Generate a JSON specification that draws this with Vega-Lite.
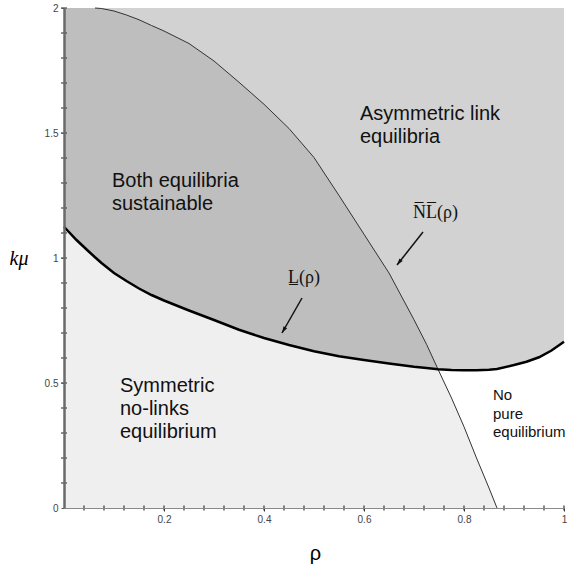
{
  "$schema": "https://vega.github.io/schema/vega-lite/v6.json",
  "width": 500,
  "height": 500,
  "autosize": "none",
  "padding": {"left": 64, "top": 8, "right": 5, "bottom": 63},
  "background": "white",
  "config": {
    "view": {"fill": "#d2d2d2", "stroke": null},
    "axis": {"labelOverlap": false, "labelFlush": false, "grid": false, "zindex": 1}
  },
  "datasets": {
    "curves": [
      {"rho": 0, "L": 1.125, "NL": 2},
      {"rho": 0.025, "L": 1.072, "NL": 2},
      {"rho": 0.05, "L": 1.025, "NL": 2},
      {"rho": 0.062, "L": 1.003, "NL": 2},
      {"rho": 0.075, "L": 0.98, "NL": 1.998},
      {"rho": 0.1, "L": 0.94, "NL": 1.988},
      {"rho": 0.125, "L": 0.908, "NL": 1.972},
      {"rho": 0.15, "L": 0.878, "NL": 1.953},
      {"rho": 0.175, "L": 0.852, "NL": 1.93},
      {"rho": 0.2, "L": 0.83, "NL": 1.908},
      {"rho": 0.25, "L": 0.79, "NL": 1.858},
      {"rho": 0.3, "L": 0.752, "NL": 1.788},
      {"rho": 0.35, "L": 0.713, "NL": 1.703},
      {"rho": 0.4, "L": 0.68, "NL": 1.615},
      {"rho": 0.45, "L": 0.652, "NL": 1.518},
      {"rho": 0.5, "L": 0.627, "NL": 1.402},
      {"rho": 0.55, "L": 0.607, "NL": 1.25},
      {"rho": 0.6, "L": 0.592, "NL": 1.095},
      {"rho": 0.65, "L": 0.578, "NL": 0.94},
      {"rho": 0.7, "L": 0.565, "NL": 0.753},
      {"rho": 0.725, "L": 0.56, "NL": 0.655},
      {"rho": 0.748, "L": 0.555, "NL": 0.555},
      {"rho": 0.775, "L": 0.552, "NL": 0.44},
      {"rho": 0.8, "L": 0.551, "NL": 0.325},
      {"rho": 0.825, "L": 0.551, "NL": 0.2},
      {"rho": 0.85, "L": 0.553, "NL": 0.08},
      {"rho": 0.866, "L": 0.556, "NL": 0},
      {"rho": 0.9, "L": 0.572, "NL": null},
      {"rho": 0.925, "L": 0.585, "NL": null},
      {"rho": 0.95, "L": 0.603, "NL": null},
      {"rho": 0.975, "L": 0.63, "NL": null},
      {"rho": 1, "L": 0.665, "NL": null}
    ],
    "xticks": [
      {"rho": 0.04}, {"rho": 0.08}, {"rho": 0.12}, {"rho": 0.16}, {"rho": 0.2},
      {"rho": 0.24}, {"rho": 0.28}, {"rho": 0.32}, {"rho": 0.36}, {"rho": 0.4},
      {"rho": 0.44}, {"rho": 0.48}, {"rho": 0.52}, {"rho": 0.56}, {"rho": 0.6},
      {"rho": 0.64}, {"rho": 0.68}, {"rho": 0.72}, {"rho": 0.76}, {"rho": 0.8},
      {"rho": 0.84}, {"rho": 0.88}, {"rho": 0.92}, {"rho": 0.96}, {"rho": 1}
    ],
    "yticks": [
      {"kmu": 0.1}, {"kmu": 0.2}, {"kmu": 0.3}, {"kmu": 0.4}, {"kmu": 0.5},
      {"kmu": 0.6}, {"kmu": 0.7}, {"kmu": 0.8}, {"kmu": 0.9}, {"kmu": 1},
      {"kmu": 1.1}, {"kmu": 1.2}, {"kmu": 1.3}, {"kmu": 1.4}, {"kmu": 1.5},
      {"kmu": 1.6}, {"kmu": 1.7}, {"kmu": 1.8}, {"kmu": 1.9}, {"kmu": 2}
    ],
    "arrows": [
      {"name": "NL", "rho": 0.718, "kmu": 1.104, "rho2": 0.666, "kmu2": 0.972},
      {"name": "L", "rho": 0.476, "kmu": 0.84, "rho2": 0.436, "kmu2": 0.7}
    ],
    "regionLabels": [
      {"rho": 0.096, "kmu": 1.284, "text": ["Both equilibria", "sustainable"]},
      {"rho": 0.112, "kmu": 0.464, "text": ["Symmetric", "no-links", "equilibrium"]},
      {"rho": 0.592, "kmu": 1.552, "text": ["Asymmetric link", "equilibria"]}
    ],
    "smallLabels": [
      {"rho": 0.858, "kmu": 0.432, "text": ["No", "pure", "equilibrium"]}
    ],
    "curveLabels": [
      {"rho": 0.698, "kmu": 1.16, "text": "N̅L̅(ρ)"},
      {"rho": 0.448, "kmu": 0.9, "text": "L̲(ρ)"}
    ]
  },
  "layer": [
    {
      "data": {"name": "curves"},
      "transform": [{"filter": "datum.rho <= 0.748"}],
      "mark": {"type": "area", "color": "#bebebe", "opacity": 1},
      "encoding": {
        "x": {
          "field": "rho", "type": "quantitative",
          "scale": {"domain": [0, 1], "nice": false, "zero": false},
          "axis": {
            "title": "ρ",
            "values": [0.2, 0.4, 0.6, 0.8, 1],
            "format": "~g",
            "labelOverlap": false,
            "labelFlush": false,
            "grid": false,
            "zindex": 1,
            "domainColor": "#8a8a8a",
            "domainWidth": 1,
            "tickColor": "#333333",
            "tickSize": 3,
            "labelFont": "Liberation Sans",
            "labelFontSize": 10,
            "labelColor": "#444444",
            "labelPadding": 3,
            "titleFont": "Liberation Sans",
            "titleFontSize": 20,
            "titleFontWeight": "normal",
            "titleColor": "#000000",
            "titleX": 251,
            "titleY": 45,
            "titleAlign": "center",
            "titleBaseline": "middle"
          }
        },
        "y": {
          "field": "NL", "type": "quantitative",
          "scale": {"domain": [0, 2], "nice": false, "zero": false},
          "axis": {
            "title": "kμ",
            "values": [0, 0.5, 1, 1.5, 2],
            "format": "~g",
            "labelOverlap": false,
            "labelFlush": false,
            "grid": false,
            "zindex": 1,
            "domainColor": "#6a6a6a",
            "domainWidth": 2.5,
            "tickColor": "#555555",
            "tickSize": 3,
            "labelFont": "Liberation Sans",
            "labelFontSize": 10,
            "labelColor": "#444444",
            "labelPadding": 3,
            "titleFont": "Liberation Serif",
            "titleFontStyle": "italic",
            "titleFontSize": 20,
            "titleFontWeight": "normal",
            "titleColor": "#000000",
            "titleAngle": 0,
            "titleX": -55,
            "titleY": 250,
            "titleAlign": "left",
            "titleBaseline": "middle"
          }
        },
        "y2": {"field": "L"}
      }
    },
    {
      "data": {"name": "curves"},
      "transform": [{"filter": "datum.rho >= 0.748"}],
      "mark": {"type": "area", "color": "#ffffff", "opacity": 1},
      "encoding": {
        "x": {"field": "rho", "type": "quantitative", "scale": {"domain": [0, 1], "nice": false, "zero": false}},
        "y": {"field": "L", "type": "quantitative", "scale": {"domain": [0, 2], "nice": false, "zero": false}},
        "y2": {"datum": 0}
      }
    },
    {
      "data": {"name": "curves"},
      "transform": [{"filter": "datum.rho <= 0.748"}],
      "mark": {"type": "area", "color": "#efefef", "opacity": 1},
      "encoding": {
        "x": {"field": "rho", "type": "quantitative", "scale": {"domain": [0, 1], "nice": false, "zero": false}},
        "y": {"field": "L", "type": "quantitative", "scale": {"domain": [0, 2], "nice": false, "zero": false}},
        "y2": {"datum": 0}
      }
    },
    {
      "data": {"name": "curves"},
      "transform": [{"filter": "datum.rho >= 0.748 && datum.NL != null"}],
      "mark": {"type": "area", "color": "#efefef", "opacity": 1},
      "encoding": {
        "x": {"field": "rho", "type": "quantitative", "scale": {"domain": [0, 1], "nice": false, "zero": false}},
        "y": {"field": "NL", "type": "quantitative", "scale": {"domain": [0, 2], "nice": false, "zero": false}},
        "y2": {"datum": 0}
      }
    },
    {
      "data": {"name": "curves"},
      "transform": [{"filter": "datum.rho >= 0.062 && datum.NL != null"}],
      "mark": {"type": "line", "color": "#333333", "strokeWidth": 1},
      "encoding": {
        "x": {"field": "rho", "type": "quantitative", "scale": {"domain": [0, 1], "nice": false, "zero": false}},
        "y": {"field": "NL", "type": "quantitative", "scale": {"domain": [0, 2], "nice": false, "zero": false}}
      }
    },
    {
      "data": {"name": "curves"},
      "mark": {"type": "line", "color": "#000000", "strokeWidth": 2.5},
      "encoding": {
        "x": {"field": "rho", "type": "quantitative", "scale": {"domain": [0, 1], "nice": false, "zero": false}},
        "y": {"field": "L", "type": "quantitative", "scale": {"domain": [0, 2], "nice": false, "zero": false}}
      }
    },
    {
      "data": {"name": "xticks"},
      "mark": {"type": "tick", "orient": "vertical", "size": 5, "thickness": 1.2, "color": "#333333", "opacity": 1},
      "encoding": {
        "x": {"field": "rho", "type": "quantitative", "scale": {"domain": [0, 1], "nice": false, "zero": false}},
        "y": {"datum": 0, "type": "quantitative", "scale": {"domain": [0, 2], "nice": false, "zero": false}}
      }
    },
    {
      "data": {"name": "yticks"},
      "mark": {"type": "tick", "orient": "horizontal", "size": 6, "thickness": 1.2, "color": "#444444", "opacity": 1},
      "encoding": {
        "x": {"datum": 0, "type": "quantitative", "scale": {"domain": [0, 1], "nice": false, "zero": false}},
        "y": {"field": "kmu", "type": "quantitative", "scale": {"domain": [0, 2], "nice": false, "zero": false}}
      }
    },
    {
      "data": {"name": "arrows"},
      "mark": {"type": "rule", "color": "#111111", "strokeWidth": 1.5},
      "encoding": {
        "x": {"field": "rho", "type": "quantitative", "scale": {"domain": [0, 1], "nice": false, "zero": false}},
        "y": {"field": "kmu", "type": "quantitative", "scale": {"domain": [0, 2], "nice": false, "zero": false}},
        "x2": {"field": "rho2"},
        "y2": {"field": "kmu2"}
      }
    },
    {
      "data": {"name": "arrows"},
      "transform": [{"filter": "datum.name == 'NL'"}],
      "mark": {"type": "point", "shape": "M0,0L-0.7,2.2L0.7,2.2Z", "size": 36, "filled": true, "color": "#111111", "opacity": 1, "angle": 218},
      "encoding": {
        "x": {"field": "rho2", "type": "quantitative", "scale": {"domain": [0, 1], "nice": false, "zero": false}},
        "y": {"field": "kmu2", "type": "quantitative", "scale": {"domain": [0, 2], "nice": false, "zero": false}}
      }
    },
    {
      "data": {"name": "arrows"},
      "transform": [{"filter": "datum.name == 'L'"}],
      "mark": {"type": "point", "shape": "M0,0L-0.7,2.2L0.7,2.2Z", "size": 36, "filled": true, "color": "#111111", "opacity": 1, "angle": 210},
      "encoding": {
        "x": {"field": "rho2", "type": "quantitative", "scale": {"domain": [0, 1], "nice": false, "zero": false}},
        "y": {"field": "kmu2", "type": "quantitative", "scale": {"domain": [0, 2], "nice": false, "zero": false}}
      }
    },
    {
      "data": {"name": "regionLabels"},
      "mark": {"type": "text", "font": "Liberation Sans", "fontSize": 20, "lineHeight": 23, "align": "left", "baseline": "alphabetic", "color": "#111111"},
      "encoding": {
        "x": {"field": "rho", "type": "quantitative", "scale": {"domain": [0, 1], "nice": false, "zero": false}},
        "y": {"field": "kmu", "type": "quantitative", "scale": {"domain": [0, 2], "nice": false, "zero": false}},
        "text": {"field": "text"}
      }
    },
    {
      "data": {"name": "smallLabels"},
      "mark": {"type": "text", "font": "Liberation Sans", "fontSize": 15, "lineHeight": 18.5, "align": "left", "baseline": "alphabetic", "color": "#111111"},
      "encoding": {
        "x": {"field": "rho", "type": "quantitative", "scale": {"domain": [0, 1], "nice": false, "zero": false}},
        "y": {"field": "kmu", "type": "quantitative", "scale": {"domain": [0, 2], "nice": false, "zero": false}},
        "text": {"field": "text"}
      }
    },
    {
      "data": {"name": "curveLabels"},
      "mark": {"type": "text", "font": "Liberation Serif", "fontSize": 18, "align": "left", "baseline": "alphabetic", "color": "#111111"},
      "encoding": {
        "x": {"field": "rho", "type": "quantitative", "scale": {"domain": [0, 1], "nice": false, "zero": false}},
        "y": {"field": "kmu", "type": "quantitative", "scale": {"domain": [0, 2], "nice": false, "zero": false}},
        "text": {"field": "text"}
      }
    }
  ]
}
